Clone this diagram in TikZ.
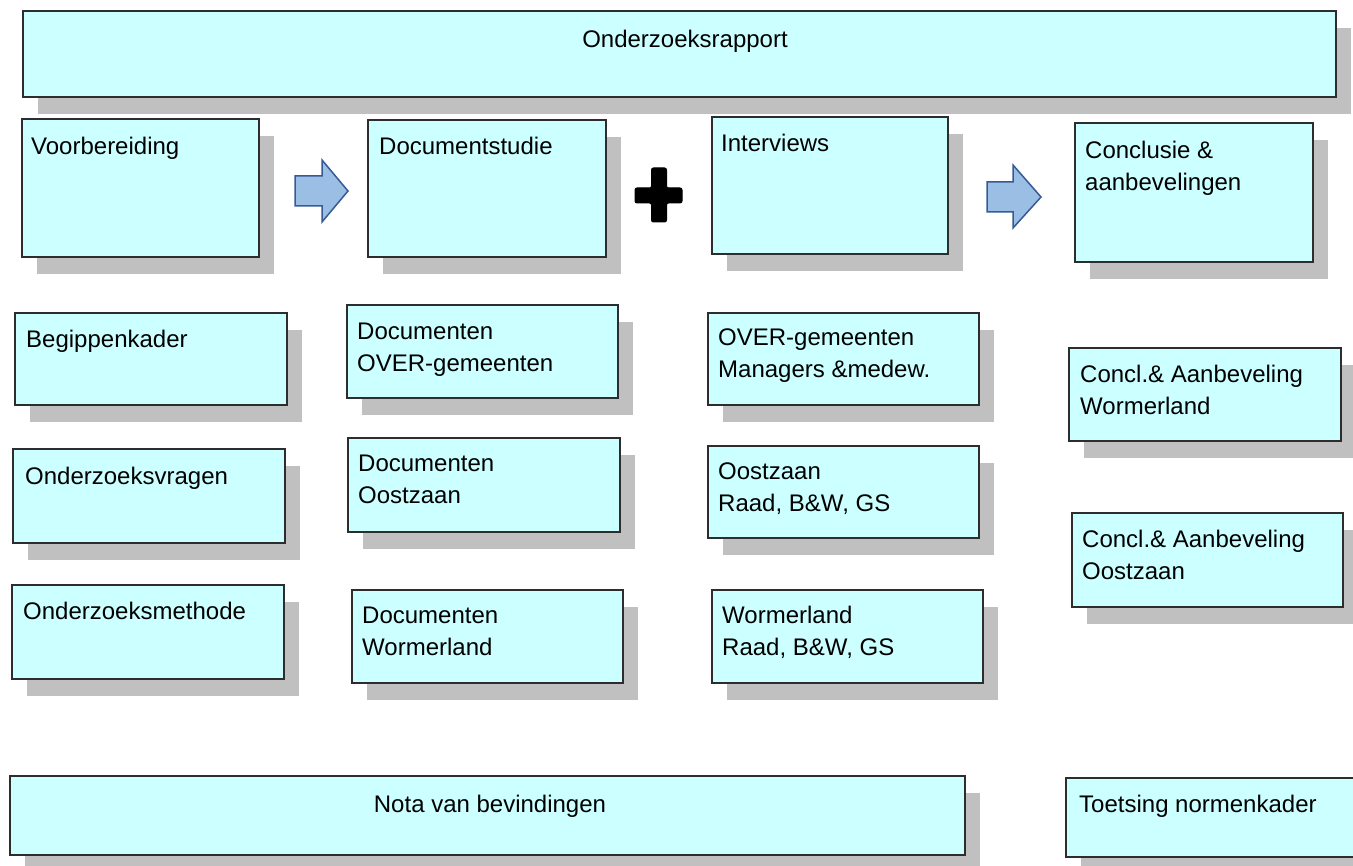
\documentclass[tikz,border=0pt]{standalone}
\usepackage{fontspec}
\setmainfont{Liberation Sans}
\usetikzlibrary{shadows}
\definecolor{boxfill}{RGB}{204,255,255}
\definecolor{boxline}{RGB}{45,45,45}
\definecolor{shadowgray}{RGB}{192,192,192}
\definecolor{arrowfill}{RGB}{155,190,228}
\definecolor{arrowline}{RGB}{55,90,150}
\begin{document}
\begin{tikzpicture}[x=1pt,y=-1pt,
  box/.style={draw=boxline, line width=1.6pt, fill=boxfill, rectangle, inner sep=0pt, outer sep=0pt, anchor=north west,
    drop shadow={shadow xshift=15pt, shadow yshift=-17pt, fill=shadowgray, opacity=1}},
  lbl/.style={anchor=north west, inner sep=0pt, align=left, font=\fontsize{24}{31.5}\selectfont, text=black},
  clbl/.style={lbl, anchor=north},
  blockarrow/.style={draw=arrowline, line width=1.5pt, fill=arrowfill, line join=miter},
  plusshape/.style={fill=black, draw=black, line width=1pt, rounded corners=2pt}]
\useasboundingbox (0,0) rectangle (1353,866);
% top row
\node[box, minimum width=1313pt, minimum height=86pt] (top) at (23,11) {};
\node[clbl] (ttop) at (685,29.5) {Onderzoeksrapport};

\node[box, minimum width=237pt, minimum height=138pt] (voor) at (22,119) {};
\node[lbl] (tvoor) at (31,137) {Voorbereiding};

\node[box, minimum width=238pt, minimum height=137pt] (doc) at (368,120) {};
\node[lbl] (tdoc) at (379,137) {Documentstudie};

\node[box, minimum width=236pt, minimum height=137pt] (int) at (712,117) {};
\node[lbl] (tint) at (721,134) {Interviews};

\node[box, minimum width=238pt, minimum height=139pt] (conc) at (1075,123) {};
\node[lbl] (tconc) at (1085,141) {Conclusie \&\\aanbevelingen};

% block arrows and plus
\draw[blockarrow] (295,176) -- (322,176) -- (322,160) -- (348,191) -- (322,222) -- (322,206) -- (295,206) -- cycle;
\draw[blockarrow] (987,182) -- (1013,182) -- (1013,165) -- (1041,197) -- (1013,228) -- (1013,212) -- (987,212) -- cycle;
\draw[plusshape] (651.5,168) -- (666.5,168) -- (666.5,188) -- (682,188) -- (682,203) -- (666.5,203) -- (666.5,222) -- (651.5,222) -- (651.5,203) -- (635,203) -- (635,188) -- (651.5,188) -- cycle;

% column 1
\node[box, minimum width=272pt, minimum height=92pt] (beg) at (15,313) {};
\node[lbl] (tbeg) at (26,330) {Begippenkader};
\node[box, minimum width=272pt, minimum height=94pt] (vrag) at (13,449) {};
\node[lbl] (tvrag) at (25,467) {Onderzoeksvragen};
\node[box, minimum width=272pt, minimum height=94pt] (meth) at (12,585) {};
\node[lbl] (tmeth) at (23,602) {Onderzoeksmethode};

% column 2
\node[box, minimum width=271pt, minimum height=93pt] (dover) at (347,305) {};
\node[lbl] (tdover) at (357,323) {Documenten\\OVER-gemeenten};
\node[box, minimum width=272pt, minimum height=94pt] (doost) at (348,438) {};
\node[lbl] (tdoost) at (358,455) {Documenten\\Oostzaan};
\node[box, minimum width=271pt, minimum height=93pt] (dworm) at (352,590) {};
\node[lbl] (tdworm) at (362,607) {Documenten\\Wormerland};

% column 3
\node[box, minimum width=271pt, minimum height=92pt] (iover) at (708,313) {};
\node[lbl] (tiover) at (718,329) {OVER-gemeenten\\Managers \&medew.};
\node[box, minimum width=271pt, minimum height=92pt] (ioost) at (708,446) {};
\node[lbl] (tioost) at (718,463) {Oostzaan\\Raad, B\&W, GS};
\node[box, minimum width=271pt, minimum height=93pt] (iworm) at (712,590) {};
\node[lbl] (tiworm) at (722,606) {Wormerland\\Raad, B\&W, GS};

% column 4
\node[box, minimum width=272pt, minimum height=93pt] (cw) at (1069,348) {};
\node[lbl] (tcw) at (1080,365) {Concl.\& Aanbeveling\\Wormerland};
\node[box, minimum width=271pt, minimum height=94pt] (co) at (1072,513) {};
\node[lbl] (tco) at (1082,530) {Concl.\& Aanbeveling\\Oostzaan};

% bottom row
\node[box, minimum width=955pt, minimum height=79pt] (nota) at (10,776) {};
\node[clbl] (tnota) at (490,794.5) {Nota van bevindingen};
\node[box, minimum width=294pt, minimum height=79pt] (toets) at (1066,778) {};
\node[lbl] (ttoets) at (1079,794.5) {Toetsing normenkader};
\end{tikzpicture}
\end{document}
